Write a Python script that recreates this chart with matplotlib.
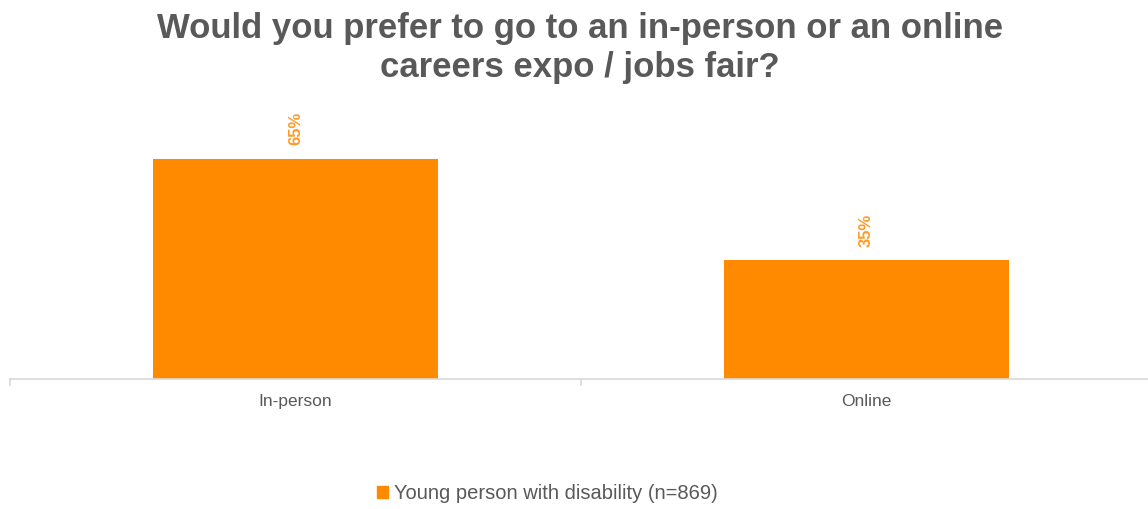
import matplotlib
matplotlib.use('Agg')
import matplotlib.pyplot as plt
from matplotlib.patches import Patch

plt.rcParams['font.family'] = ['Liberation Sans', 'DejaVu Sans']

# data
categories = ['In-person', 'Online']
values = [65, 35]
series_name = 'Young person with disability (n=869)'
title = 'Would you prefer to go to an in-person or an online\ncareers expo / jobs fair?'

orange = '#FF8A00'
grey_text = '#595959'
axis_grey = '#D9D9D9'

fig = plt.figure(figsize=(11.48, 5.09), dpi=100)
ax = fig.add_axes([10 / 1148, 130 / 509, 1142 / 1148, 271 / 509])

x = range(len(categories))
bars = ax.bar(x, values, width=0.5, color=orange, zorder=2)

ax.set_xlim(-0.5, 1.5)
ax.set_ylim(0, 80)

# data labels, rotated like the original
for b, v in zip(bars, values):
    ax.text(b.get_x() + b.get_width() / 2, v + 4, f'{v}%', rotation=90,
            ha='center', va='bottom', color=orange, fontsize=12,
            fontweight='bold', alpha=0.85)

for side in ['top', 'right', 'left']:
    ax.spines[side].set_visible(False)
ax.spines['bottom'].set_color(axis_grey)
ax.spines['bottom'].set_linewidth(1.2)
ax.set_yticks([])

ax.set_xticks(list(x))
ax.set_xticklabels(categories, fontsize=12.5, color=grey_text)
ax.tick_params(axis='x', length=0, pad=11)
# category separator ticks
for t in [-0.5, 0.5, 1.5]:
    ax.plot([t, t], [0, -1.8], color=axis_grey, lw=1.2, clip_on=False)

fig.text(0.505, 0.976, title, ha='center', va='top', fontsize=25,
         fontweight='bold', color=grey_text, linespacing=1.22)

fig.legend(handles=[Patch(color=orange, label=series_name)],
           loc='center', bbox_to_anchor=(0.477, 0.03), frameon=False,
           fontsize=14.5, labelcolor=grey_text, handlelength=0.55,
           handleheight=0.55, handletextpad=0.3)

fig.savefig('out.png', dpi=100)
